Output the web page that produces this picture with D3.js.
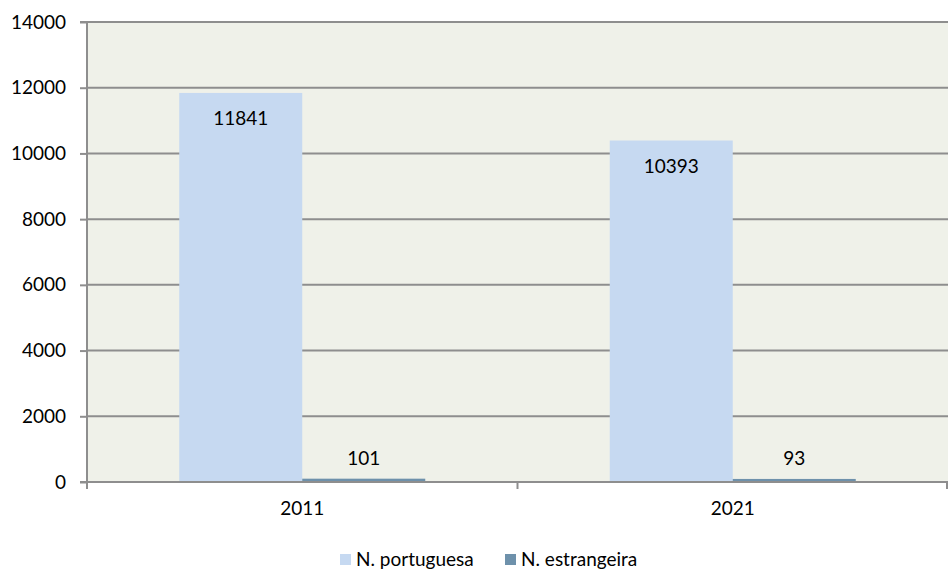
<!DOCTYPE html>
<html>
<head>
<meta charset="utf-8">
<script src="https://cdn.jsdelivr.net/npm/d3@7"></script>
<style>
  html, body { margin: 0; padding: 0; background: #fff; }
  svg { display: block; font-family: Lato, "Open Sans", sans-serif; }
</style>
</head>
<body>
<svg id="chart" width="949" height="570"></svg>
<script>
const categories = ["2011", "2021"];
const seriesNames = ["N. portuguesa", "N. estrangeira"];
const portuguesa = [11841, 10393];
const estrangeira = [101, 93];
const yTicks = [0, 2000, 4000, 6000, 8000, 10000, 12000, 14000];
const colors = ["#C6D9F1", "#6E91AB"];

const svg = d3.select("#chart");
const margin = { left: 87, right: 1, top: 22, bottom: 88 };
const W = 949, H = 570;
const x0 = margin.left, x1 = W - margin.right;
const yTop = margin.top, yBot = H - margin.bottom;
const FS = 19;

const x = d3.scaleBand().domain(categories).range([x0, x1]).paddingInner(0).paddingOuter(0);
const y = d3.scaleLinear().domain([0, 14000]).range([yBot, yTop]);
const groupInner = x.bandwidth() / (2 + 1.5);
const xs = d3.scaleBand().domain(seriesNames).range([0, groupInner * 2]);

// plot background
svg.append("rect").attr("x", x0).attr("y", yTop).attr("width", x1 - x0).attr("height", yBot - yTop).attr("fill", "#EFF1E9");

// grid lines
svg.append("g").selectAll("line").data(yTicks.filter(d => d > 0)).join("line")
  .attr("x1", x0).attr("x2", x1).attr("y1", d => y(d)).attr("y2", d => y(d))
  .attr("stroke", "#8E8E8E").attr("stroke-width", 2);

// y axis
const yAxis = d3.axisLeft(y).tickValues(yTicks).tickSize(7).tickPadding(14).tickFormat(d3.format("d"));
const gy = svg.append("g").attr("transform", `translate(${x0},0)`).call(yAxis);
gy.select(".domain").attr("stroke", "#8E8E8E").attr("stroke-width", 2).attr("d", `M-7,${yBot}H0V${yTop}H-7`);
gy.selectAll(".tick line").attr("stroke", "#8E8E8E").attr("stroke-width", 2);
gy.selectAll(".tick text").attr("fill", "#000").style("font-size", FS + "px").style("font-family", "Lato, 'Open Sans', sans-serif");

// bars
const data = [];
categories.forEach((c, i) => {
  data.push({ cat: c, s: seriesNames[0], v: portuguesa[i], color: colors[0] });
  data.push({ cat: c, s: seriesNames[1], v: estrangeira[i], color: colors[1] });
});
const offset = (x.bandwidth() - groupInner * 2) / 2;
svg.append("g").selectAll("rect").data(data).join("rect")
  .attr("x", d => x(d.cat) + offset + xs(d.s))
  .attr("y", d => y(d.v))
  .attr("width", xs.bandwidth())
  .attr("height", d => yBot - y(d.v))
  .attr("fill", d => d.color);

// x axis
const xAxisLine = svg.append("g");
xAxisLine.append("line").attr("x1", x0).attr("x2", x1).attr("y1", yBot).attr("y2", yBot)
  .attr("stroke", "#8E8E8E").attr("stroke-width", 2);
const xTickPos = [x0, ...categories.map(c => x(c) + x.bandwidth())];
xAxisLine.selectAll("line.t").data(xTickPos).join("line").attr("class", "t")
  .attr("x1", d => Math.min(d, x1 - 1)).attr("x2", d => Math.min(d, x1 - 1))
  .attr("y1", yBot).attr("y2", yBot + 7)
  .attr("stroke", "#8E8E8E").attr("stroke-width", 2);
xAxisLine.selectAll("text").data(categories).join("text")
  .attr("x", d => x(d) + x.bandwidth() / 2).attr("y", yBot + 33)
  .attr("text-anchor", "middle").attr("font-size", FS).attr("fill", "#000").text(d => d);

// data labels
svg.append("g").selectAll("text").data(data).join("text")
  .attr("x", d => x(d.cat) + offset + xs(d.s) + xs.bandwidth() / 2)
  .attr("y", d => (yBot - y(d.v)) > 60 ? y(d.v) + 32 : y(d.v) - 14)
  .attr("text-anchor", "middle").attr("font-size", FS).attr("fill", "#000")
  .text(d => d.v);

// legend
const legend = svg.append("g");
const legendItems = [
  { name: seriesNames[0], color: colors[0], x: 340 },
  { name: seriesNames[1], color: colors[1], x: 505 }
];
legendItems.forEach(it => {
  legend.append("rect").attr("x", it.x).attr("y", 554).attr("width", 11).attr("height", 11).attr("fill", it.color);
  legend.append("text").attr("x", it.x + 16).attr("y", 566).attr("font-size", FS).attr("fill", "#000").text(it.name);
});
</script>
</body>
</html>
